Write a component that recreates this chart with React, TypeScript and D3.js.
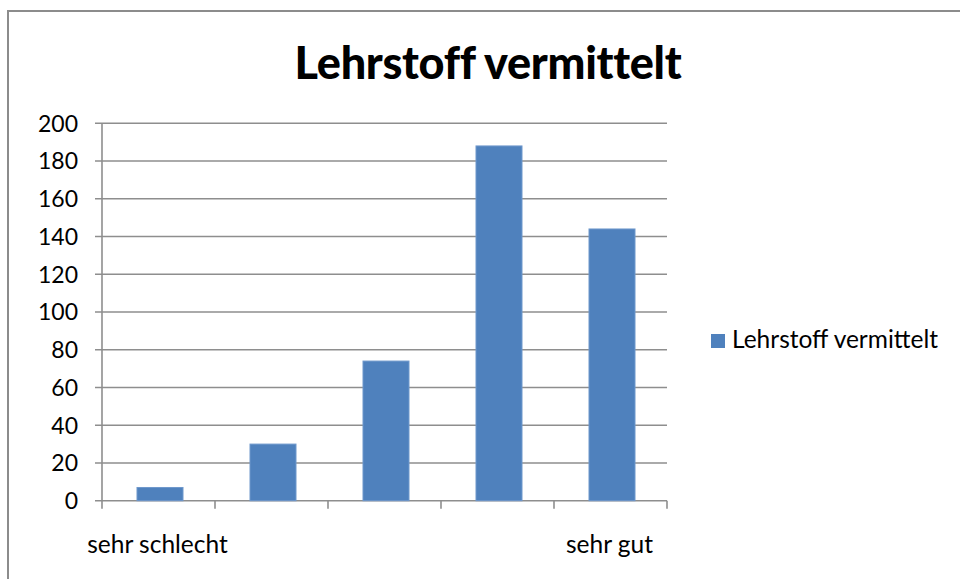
import React from "react";
import * as d3 from "d3";

const categories = ["sehr schlecht", "2", "3", "4", "sehr gut"];
const categoryLabels = ["sehr schlecht", "", "", "", "sehr gut"];
const values = [7, 30, 74, 188, 144];
const yTicks = [0, 20, 40, 60, 80, 100, 120, 140, 160, 180, 200];
const seriesName = "Lehrstoff vermittelt";
const title = "Lehrstoff vermittelt";

const W = 960;
const H = 579;
const FONT = "Lato, 'Open Sans', sans-serif";

export default function App() {
  const xOuter = d3.scaleBand().domain(categories).range([102, 667]);
  const y = d3.scaleLinear().domain([0, 200]).range([500.7, 123.3]);
  const bw = 46;
  return (
    <svg width={W} height={H} style={{ position: "absolute", left: 0, top: 0 }}>
      <rect x={0} y={0} width={W} height={H} fill="#fff" />
      <rect x={8} y={11} width={W + 10} height={H + 10} fill="#fff" stroke="#8c8c8c" strokeWidth={2} />
      <text x={488} y={79} textAnchor="middle" fontFamily={FONT} fontWeight={900} fontSize={45} letterSpacing={-0.3} fill="#000">{title}</text>
      {yTicks.map((t) => (
        <g key={t}>
          <line x1={95} x2={667} y1={y(t)} y2={y(t)} stroke="#8e8e8e" strokeWidth={1.6} />
          <text x={78} y={y(t)} dy="0.36em" textAnchor="end" fontFamily={FONT} fontSize={23} fill="#000">{t}</text>
        </g>
      ))}
      <line x1={102} x2={102} y1={y(200)} y2={y(0)} stroke="#8e8e8e" strokeWidth={1.6} />
      {categories.map((c) => (
        <line key={c} x1={xOuter(c)!} x2={xOuter(c)!} y1={y(0)} y2={y(0) + 8} stroke="#8e8e8e" strokeWidth={1.6} />
      ))}
      <line x1={667} x2={667} y1={y(0)} y2={y(0) + 8} stroke="#8e8e8e" strokeWidth={1.6} />
      {categories.map((c, i) => {
        const cx = xOuter(c)! + xOuter.bandwidth() / 2;
        return (
          <g key={c}>
            <rect x={cx - bw / 2 + 1.5} y={y(values[i])} width={bw} height={y(0) - y(values[i])} fill="#4f81bd" stroke="#6f98cc" strokeWidth={1} />
            <text x={cx - 1} y={553} textAnchor="middle" fontFamily={FONT} fontSize={24.5} fill="#000">{categoryLabels[i]}</text>
          </g>
        );
      })}
      <rect x={711} y={334} width={14} height={14} fill="#4f81bd" />
      <text x={732} y={348} fontFamily={FONT} fontSize={24.5} fill="#000">{seriesName}</text>
    </svg>
  );
}
